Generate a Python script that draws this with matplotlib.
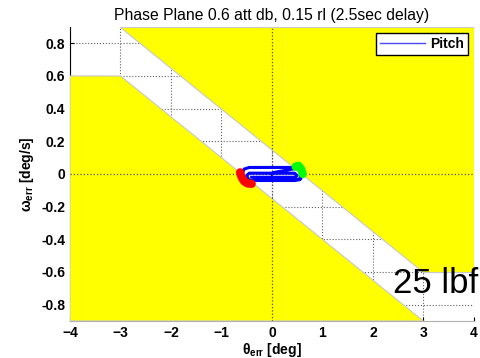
import numpy as np
import matplotlib.pyplot as plt
from matplotlib.patches import Polygon

plt.rcParams['font.family'] = ['Liberation Sans', 'DejaVu Sans']
plt.rcParams['mathtext.fontset'] = 'custom'
plt.rcParams['mathtext.rm'] = 'Liberation Sans'
plt.rcParams['mathtext.it'] = 'Liberation Sans'
plt.rcParams['mathtext.bf'] = 'Liberation Sans:bold'

# switching lines (deadband 0.6 deg, rate limit 0.15 deg/s)
upper_x = [-3, 4, 4, 3]
upper_y = [0.9, 0.9, -0.6, -0.6]
lower_x = [-4, -4, -3, 3]
lower_y = [-0.9, 0.6, 0.6, -0.9]

# limit cycle of pitch error
pitch_x = [0.0, 0.05, 0.5, 0.58, 0.6, 0.57, 0.45, -0.3, -0.45, -0.55, -0.59, -0.55,
           -0.45, 0.45, 0.55, 0.59, 0.55, 0.45, -0.45, -0.5, -0.45, 0.45, 0.5, 0.45, -0.4]
pitch_y = [0.0, 0.01, 0.035, 0.03, 0.0, -0.03, -0.035, -0.035, -0.045, -0.025, 0.0, 0.03,
           0.04, 0.04, 0.035, 0.0, -0.035, -0.04, -0.04, -0.01, 0.005, 0.005, -0.01, -0.02, -0.02]

# thruster firings
neg_x = [-0.63, -0.6, -0.55, -0.48, -0.4]
neg_y = [0.01, -0.02, -0.045, -0.058, -0.06]
pos_x = [0.47, 0.53, 0.58, 0.61]
pos_y = [0.045, 0.05, 0.03, 0.0]

fig = plt.figure(figsize=(4.81, 3.58), dpi=100)
ax = fig.add_axes([0.1455, 0.1034, 0.8395, 0.8212])

ax.add_patch(Polygon(np.column_stack([upper_x, upper_y]), closed=True,
                     facecolor='yellow', edgecolor='#c8c8c8', lw=0.8, zorder=3))
ax.add_patch(Polygon(np.column_stack([lower_x, lower_y]), closed=True,
                     facecolor='yellow', edgecolor='#c8c8c8', lw=0.8, zorder=3))

ax.grid(True, linestyle=':', color='#606060', lw=0.8, zorder=1)
ax.axhline(0, linestyle=':', color='#505050', lw=0.9, zorder=4)
ax.axvline(0, linestyle=':', color='#505050', lw=0.9, zorder=4)

ax.plot(pitch_x, pitch_y, color='blue', lw=2.2, zorder=5, label='Pitch')
ax.plot(neg_x, neg_y, color='red', lw=6, solid_capstyle='round', zorder=6)
ax.plot(pos_x, pos_y, color='#00ff00', lw=6, solid_capstyle='round', zorder=6)

ax.text(2.4, -0.73, '25 lbf', fontsize=25, color='black', zorder=7, clip_on=False)

ax.set_xlim(-4, 4)
ax.set_ylim(-0.9, 0.9)
ax.set_xticks(np.arange(-4, 5, 1))
ax.set_yticks(np.arange(-0.8, 0.81, 0.2))
ax.set_yticklabels(['-0.8', '-0.6', '-0.4', '-0.2', '0', '0.2', '0.4', '0.6', '0.8'])
ax.tick_params(direction='in', labelsize=10, length=3)
for lab in ax.get_xticklabels() + ax.get_yticklabels():
    lab.set_fontweight('bold')
ax.spines['top'].set_visible(False)
ax.spines['right'].set_visible(False)
ax.spines['bottom'].set_color('#b0b0b0')

ax.set_title('Phase Plane 0.6 att db, 0.15 rl (2.5sec delay)', fontsize=11.3, pad=5)
ax.set_xlabel(r'$\mathbf{\theta_{err}}$ [deg]', fontsize=10, fontweight='bold', labelpad=1)
ax.set_ylabel(r'$\mathbf{\omega_{err}}$ [deg/s]', fontsize=10, fontweight='bold', labelpad=4)

leg = ax.legend(loc='upper right', fontsize=10, handlelength=3.2, fancybox=False,
                framealpha=1, edgecolor='black', borderpad=0.3, handletextpad=0.4,
                borderaxespad=0.4)
leg.set_zorder(8)
leg.get_lines()[0].set_linewidth(1.0)
leg.get_lines()[0].set_color('#4848ff')
for t in leg.get_texts():
    t.set_fontweight('bold')

fig.savefig('out.png', dpi=100)
